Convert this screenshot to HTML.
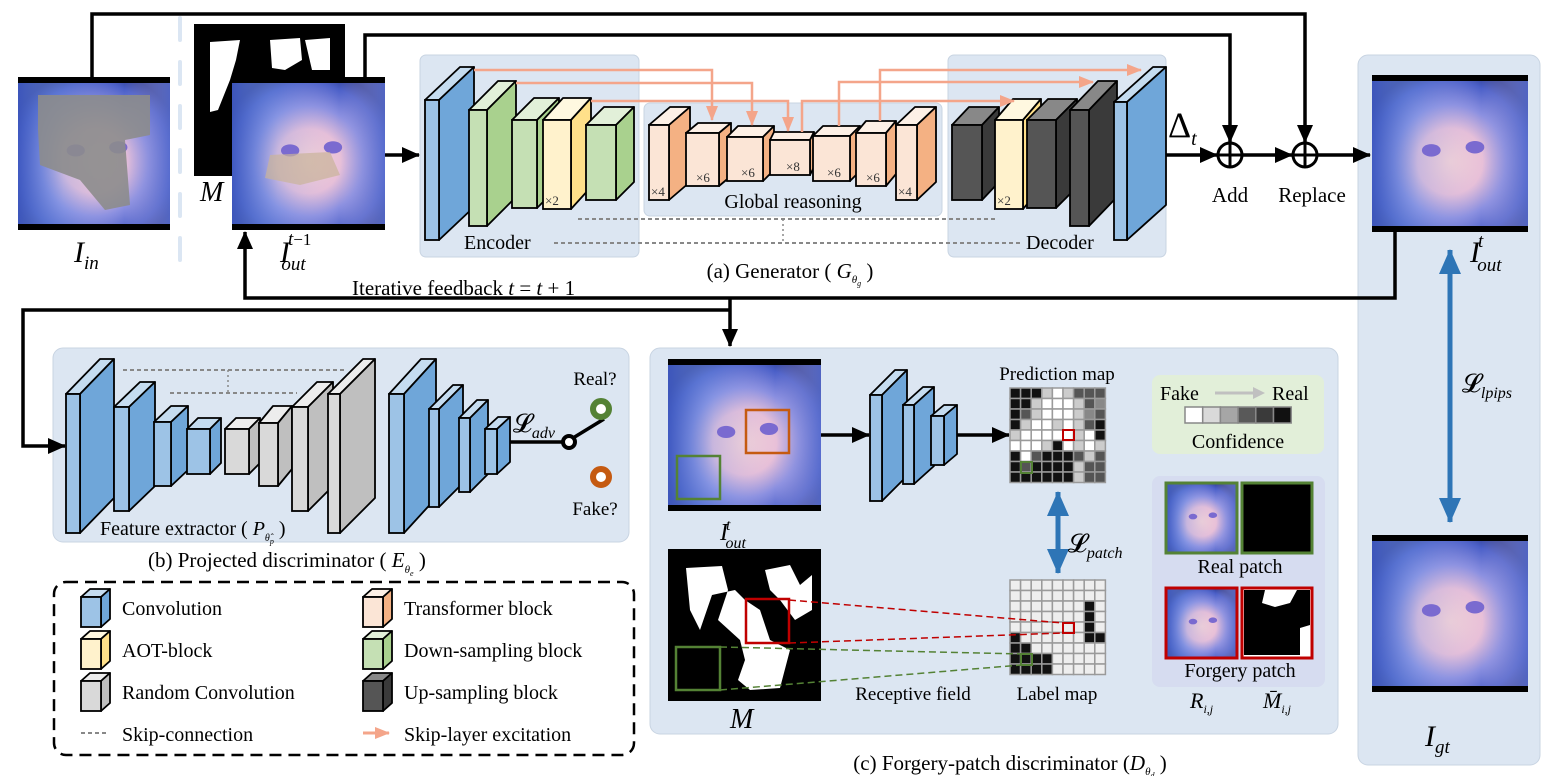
<!DOCTYPE html>
<html><head><meta charset="utf-8"><style>
html,body{margin:0;padding:0;background:#fff;}
svg{display:block;font-family:"Liberation Serif",serif;}
</style></head><body>
<svg id="s" width="1554" height="776" viewBox="0 0 1554 776" xmlns="http://www.w3.org/2000/svg">
<defs>
<marker id="ab" markerWidth="20" markerHeight="20" refX="17" refY="8" orient="auto" markerUnits="userSpaceOnUse" viewBox="0 0 20 20"><path d="M0,0 L18,8 L0,16 Z" fill="#000"/></marker>
<marker id="ap" markerWidth="16" markerHeight="14" refX="14" refY="6" orient="auto" markerUnits="userSpaceOnUse" viewBox="0 0 16 14"><path d="M0,0 L15,6 L0,12 Z" fill="#f4a58a"/></marker>
<marker id="abl" markerWidth="26" markerHeight="24" refX="24" refY="11" orient="auto" markerUnits="userSpaceOnUse" viewBox="0 0 26 24"><path d="M0,0 L25,11 L0,22 Z" fill="#2e75b6"/></marker>
<marker id="abl2" markerWidth="26" markerHeight="24" refX="1" refY="11" orient="auto" markerUnits="userSpaceOnUse" viewBox="0 0 26 24"><path d="M25,0 L0,11 L25,22 Z" fill="#2e75b6"/></marker>
<radialGradient id="anime" cx="0.5" cy="0.55" r="0.6">
<stop offset="0" stop-color="#f4d2d6"/><stop offset="0.35" stop-color="#e8c0d8"/><stop offset="0.6" stop-color="#8a8fe0"/><stop offset="0.85" stop-color="#4a5fc8"/><stop offset="1" stop-color="#2c3a8a"/></radialGradient>
<linearGradient id="hair" x1="0" y1="0" x2="1" y2="0"><stop offset="0" stop-color="#3e58c0" stop-opacity="0.9"/><stop offset="0.3" stop-color="#7fa0ea" stop-opacity="0.3"/><stop offset="0.7" stop-color="#c8b8e8" stop-opacity="0"/><stop offset="1" stop-color="#5a6fd0" stop-opacity="0.8"/></linearGradient>
</defs>
<g id="g"></g>
</svg>
<script>
var o='';
function R(x,y,w,h,f,extra){o+='<rect x="'+x+'" y="'+y+'" width="'+w+'" height="'+h+'" fill="'+f+'" '+(extra||'')+'/>';}
function L(pts,st,w,extra){o+='<polyline points="'+pts+'" fill="none" stroke="'+st+'" stroke-width="'+w+'" '+(extra||'')+'/>';}
function T(x,y,s,sz,extra){o+='<text x="'+x+'" y="'+y+'" font-size="'+sz+'" '+(extra||'')+'>'+s+'</text>';}
function box(x1,x2,y1,y2,sx,ty,front,side,top,lab){
 var dx=sx-x2,dy=y1-ty;
 o+='<polygon points="'+x1+','+y1+' '+(x1+dx)+','+ty+' '+sx+','+ty+' '+x2+','+y1+'" fill="'+top+'" stroke="#000" stroke-width="1.8" stroke-linejoin="round"/>';
 o+='<polygon points="'+x2+','+y1+' '+sx+','+ty+' '+sx+','+(y2-dy)+' '+x2+','+y2+'" fill="'+side+'" stroke="#000" stroke-width="1.8" stroke-linejoin="round"/>';
 o+='<rect x="'+x1+'" y="'+y1+'" width="'+(x2-x1)+'" height="'+(y2-y1)+'" fill="'+front+'" stroke="#000" stroke-width="1.8"/>';
 if(lab) T(x1+2,y2-4,lab,13,'fill="#333"');
}
var BL=['#9dc3e6','#6fa6d9','#c5dcf0'],GR=['#c5e0b4','#a9d18e','#e2f0d9'],YE=['#fff2cc','#ffe08a','#fff8e0'],TR=['#fbe5d6','#f4b183','#fdf0e6'],DK=['#555','#3a3a3a','#888'],GY=['#d9d9d9','#bfbfbf','#ededed'];
function B(a,b,c,d,e,f,C,lab){box(a,b,c,d,e,f,C[0],C[1],C[2],lab);}
function img(x,y,w,h,bars){
 R(x,y,w,h,'url(#anime)');R(x,y,w,h,'url(#hair)');
 o+='<ellipse cx="'+(x+w*0.38)+'" cy="'+(y+h*0.48)+'" rx="'+(w*0.06)+'" ry="'+(h*0.04)+'" fill="#7a6ad0"/>';
 o+='<ellipse cx="'+(x+w*0.66)+'" cy="'+(y+h*0.46)+'" rx="'+(w*0.06)+'" ry="'+(h*0.04)+'" fill="#7a6ad0"/>';
 if(bars){R(x,y,w,6,'#000');R(x,y+h-6,w,6,'#000');}
}
R(420,55,219,202,'#dce6f2','rx="6" stroke="#c8d4e2"');
R(948,55,218,202,'#dce6f2','rx="6" stroke="#c8d4e2"');
R(644,103,298,113,'#dce6f2','rx="6" stroke="#c8d4e2"');
R(1358,55,182,710,'#dce6f2','rx="10" stroke="#c8d4e2"');
R(53,348,576,194,'#dce6f2','rx="10" stroke="#c8d4e2"');
R(650,348,688,386,'#dce6f2','rx="10" stroke="#c8d4e2"');
img(18,77,152,153,true);
o+='<path d="M38,95 L150,95 L150,135 L125,140 L130,205 L105,210 L80,180 L40,165 L38,130 Z" fill="#8c8c8c" opacity="0.9"/>';
o+='<line x1="180" y1="18" x2="180" y2="268" stroke="#dbe6f3" stroke-width="4" stroke-dasharray="22,22" stroke-linecap="round"/>';
R(194,24,151,152,'#000');
o+='<path d="M210,42 L240,40 L236,60 L230,80 L222,100 L218,110 L210,112 Z M270,40 L300,38 L302,60 L285,70 L272,68 Z M305,40 L330,38 L330,70 L312,70 Z" fill="#fff"/>';
img(232,77,153,153,true);
o+='<path d="M270,155 L330,152 L340,175 L300,185 L265,178 Z" fill="#c9b49a" opacity="0.7"/>';
T(74,262,'<tspan font-style="italic">I</tspan><tspan font-size="19" dy="7" font-style="italic">in</tspan>',30);
T(200,201,'M',28,'font-style="italic"');
T(280,262,'<tspan font-style="italic">I</tspan><tspan font-size="19" dx="-2" dy="-17" font-style="italic">t</tspan><tspan font-size="17">−1</tspan><tspan font-size="19" dx="-30" dy="25" font-style="italic">out</tspan>',30);
B(425,439,100,240,474,67,BL);
B(469,487,110,226,516,81,GR);
B(512,537,120,208,559,98,GR);
B(543,571,120,209,591,98,YE,'×2');
B(586,616,125,200,634,107,GR);
B(649,669,125,200,690,107,TR,'×4');
B(686,719,133,186,731,123,TR,'<tspan dx="8">×6</tspan>');
B(727,763,137,181,774,126,TR,'<tspan dx="12">×6</tspan>');
B(770,810,140,175,814,132,TR,'<tspan dx="14">×8</tspan>');
B(813,850,136,181,860,126,TR,'<tspan dx="12">×6</tspan>');
B(856,886,133,186,896,121,TR,'<tspan dx="8">×6</tspan>');
B(896,917,125,200,936,107,TR,'×4');
B(952,982,125,200,999,107,DK);
B(995,1023,120,209,1041,99,YE,'×2');
B(1027,1056,120,208,1077,99,DK);
B(1070,1089,110,226,1117,81,DK);
B(1114,1127,102,240,1166,67,BL);
var P='#f4a58a';
L('474,70 712,70 712,120',P,2.5,'marker-end="url(#ap)"');
L('516,83 752,83 752,125',P,2.5,'marker-end="url(#ap)"');
L('591,101 788,101 788,131',P,2.5,'marker-end="url(#ap)"');
L('802,132 802,101 1014,101',P,2.5,'marker-end="url(#ap)"');
L('839,126 839,82 1093,82',P,2.5,'marker-end="url(#ap)"');
L('880,121 880,70 1141,70',P,2.5,'marker-end="url(#ap)"');
L('578,219 996,219','#888',2,'stroke-dasharray="4,3"');
L('554,243 1023,243','#888',2,'stroke-dasharray="4,3"');
L('783,219 783,243','#888',1.5,'stroke-dasharray="2,3"');
T(793,208,'Global reasoning',20,'text-anchor="middle"');
T(464,249,'Encoder',20);T(1026,249,'Decoder',20);
T(790,278,'(a) Generator ( <tspan font-style="italic">G</tspan><tspan font-size="11" dy="5" font-style="italic">θ</tspan><tspan font-size="8" dy="3" font-style="italic">g</tspan><tspan dy="-8"> )</tspan>',21,'text-anchor="middle"');
var K='#000';
L('92,77 92,14 1305,14 1305,142',K,3.5,'marker-end="url(#ab)"');
L('365,77 365,35 1230,35 1230,142',K,3.5,'marker-end="url(#ab)"');
L('385,155 419,155',K,3.5,'marker-end="url(#ab)"');
L('1166,155 1217,155',K,3.5,'marker-end="url(#ab)"');
L('1243,155 1292,155',K,3.5,'marker-end="url(#ab)"');
L('1318,155 1370,155',K,3.5,'marker-end="url(#ab)"');
[1230,1305].forEach(function(cx){o+='<circle cx="'+cx+'" cy="155" r="12" fill="#fff" stroke="#000" stroke-width="3"/><line x1="'+(cx-12)+'" y1="155" x2="'+(cx+12)+'" y2="155" stroke="#000" stroke-width="3"/><line x1="'+cx+'" y1="143" x2="'+cx+'" y2="167" stroke="#000" stroke-width="3"/>';});
T(1168,137,'Δ<tspan font-size="20" dy="8" font-style="italic">t</tspan>',36);
T(1230,202,'Add',21,'text-anchor="middle"');T(1312,202,'Replace',21,'text-anchor="middle"');
L('1395,232 1395,298 245,298 245,232',K,3.5,'marker-end="url(#ab)"');
T(352,295,'Iterative feedback <tspan font-style="italic">t</tspan> = <tspan font-style="italic">t</tspan> + 1',21);
L('730,298 730,346',K,3.5,'marker-end="url(#ab)"');
L('730,310 23,310 23,446 65,446',K,3.5,'marker-end="url(#ab)"');
img(1372,75,156,157,true);img(1372,535,156,157,true);
T(1470,262,'<tspan font-style="italic">I</tspan><tspan font-size="19" dx="-2" dy="-15" font-style="italic">t</tspan><tspan font-size="19" dx="-6" dy="24" font-style="italic">out</tspan>',30);
T(1425,746,'<tspan font-style="italic">I</tspan><tspan font-size="19" dy="7" font-style="italic">gt</tspan>',30);
o+='<line x1="1450" y1="250" x2="1450" y2="522" stroke="#2e75b6" stroke-width="5" marker-start="url(#abl2)" marker-end="url(#abl)"/>';
T(1462,392,'𝓛<tspan font-size="16" dy="6" font-style="italic">lpips</tspan>',26);
B(66,80,394,533,114,359,BL);B(114,129,407,511,155,382,BL);B(154,171,422,486,188,406,BL);B(187,210,429,474,221,418,BL);
B(225,249,429,474,260,418,GY);B(259,278,423,486,292,406,GY);B(292,308,407,511,333,382,GY);B(328,340,394,533,375,359,GY);
B(389,404,394,533,436,359,BL);B(429,439,409,507,463,385,BL);B(459,470,418,492,488,400,BL);B(485,497,429,474,510,417,BL);
L('123,370 346,370','#888',2,'stroke-dasharray="4,3"');L('170,393 297,393','#888',2,'stroke-dasharray="4,3"');L('228,370 228,393','#888',1.5,'stroke-dasharray="2,3"');
L('510,442 563,442',K,3.5);
o+='<circle cx="569" cy="442" r="6" fill="#fff" stroke="#000" stroke-width="4"/><line x1="573" y1="438" x2="604" y2="419" stroke="#000" stroke-width="3.5"/>';
o+='<circle cx="601" cy="409" r="8" fill="#fff" stroke="#548235" stroke-width="6"/><circle cx="601" cy="477" r="8" fill="#fff" stroke="#c55a11" stroke-width="6"/>';
T(595,385,'Real?',19,'text-anchor="middle"');T(595,515,'Fake?',19,'text-anchor="middle"');
T(513,432,'𝓛<tspan font-size="16" dy="6" font-style="italic">adv</tspan>',26);
T(100,535,'Feature extractor ( <tspan font-style="italic">P</tspan><tspan font-size="10" dy="6" font-style="italic">θ̂</tspan><tspan font-size="8" dy="3" font-style="italic">p</tspan><tspan dy="-9"> )</tspan>',20);
T(148,567,'(b) Projected discriminator ( <tspan font-style="italic">E</tspan><tspan font-size="11" dy="6" font-style="italic">θ</tspan><tspan font-size="8" dy="3" font-style="italic">e</tspan><tspan dy="-9"> )</tspan>',21);
R(54,582,580,173,'none','rx="12" stroke="#000" stroke-width="2.5" stroke-dasharray="12,7"');
function lg(x,y,C){box(x,x+20,y-10,y+20,x+29,y-18,C[0],C[1],C[2]);}
lg(81,607,BL);lg(81,649,YE);lg(81,691,GY);lg(363,607,TR);lg(363,649,GR);lg(363,691,DK);
L('81,733 109,733','#888',2,'stroke-dasharray="4,3"');L('363,733 389,733',P,3,'marker-end="url(#ap)"');
T(122,615,'Convolution',20);T(122,657,'AOT-block',20);T(122,699,'Random Convolution',20);T(122,741,'Skip-connection',20);
T(404,615,'Transformer block',20);T(404,657,'Down-sampling block',20);T(404,699,'Up-sampling block',20);T(404,741,'Skip-layer excitation',20);
img(668,359,153,152,true);
R(746,410,43,43,'none','stroke="#c55a11" stroke-width="2.5"');R(677,456,43,43,'none','stroke="#548235" stroke-width="2.5"');
T(720,540,'<tspan font-style="italic">I</tspan><tspan font-size="16" dx="-2" dy="-10" font-style="italic">t</tspan><tspan font-size="16" dx="-5" dy="18" font-style="italic">out</tspan>',24);
R(668,549,153,152,'#000');
o+='<path d="M686,568 L722,566 L728,590 L718,620 L740,640 L745,660 L738,680 L750,690 L780,688 L790,650 L770,640 L760,610 L745,600 L735,590 L712,595 L700,630 L690,610 Z M765,570 L790,565 L800,585 L812,575 L812,610 L795,620 L780,600 L770,590 Z" fill="#fff"/>';
R(746,599,43,44,'none','stroke="#c00000" stroke-width="2.5"');R(676,647,44,43,'none','stroke="#548235" stroke-width="2.5"');
T(730,728,'M',28,'font-style="italic"');
L('821,435 869,435',K,3.5,'marker-end="url(#ab)"');
B(870,882,395,501,907,370,BL);B(903,914,405,484,934,387,BL);B(931,944,416,465,957,405,BL);
L('957,435 1009,435',K,3.5,'marker-end="url(#ab)"');
var cm={k:'#111',g:'#888',w:'#fff',l:'#ccc',m:'#555',x:'#eee'};
function grid(x0,y0,s){for(var r=0;r<9;r++)for(var c=0;c<9;c++){var ch=s[r*9+c];R(x0+c*10.6,y0+r*10.5,10.6,10.5,cm[ch],'stroke="#9a9a9a" stroke-width="1.5"');}}
grid(1010,388,'kkklwlmmm'+'kklwwwlmg'+'kmlwwwlgm'+'klwwlwlmk'+'lwwwwwlwk'+'wwwlkwlwl'+'kwmkkkmlm'+'kmkkkklmm'+'kkkkkklmm');
R(1063,430,11,10,'none','stroke="#c00000" stroke-width="2"');
R(1021,462,11,11,'none','stroke="#548235" stroke-width="2"');
var lm='';for(var r=0;r<9;r++){for(var c=0;c<9;c++){var k=0;if(c==7&&r>=2&&r<=5)k=1;if(r==5&&c==8)k=1;if(r>=5&&c==0)k=1;if(r>=6&&c<=1)k=1;if(r>=7&&c<=3)k=1;lm+=k?'k':'x';}}
grid(1010,580,lm);
R(1063,623,11,10,'none','stroke="#c00000" stroke-width="2"');R(1021,654,11,11,'none','stroke="#548235" stroke-width="2"');
T(1057,380,'Prediction map',19,'text-anchor="middle"');T(1057,700,'Label map',19,'text-anchor="middle"');
T(913,700,'Receptive field',19,'text-anchor="middle"');
o+='<line x1="789" y1="600" x2="1063" y2="623" stroke="#c00000" stroke-width="1.5" stroke-dasharray="7,4"/><line x1="789" y1="643" x2="1063" y2="633" stroke="#c00000" stroke-width="1.5" stroke-dasharray="7,4"/>';
o+='<line x1="720" y1="647" x2="1021" y2="654" stroke="#548235" stroke-width="1.5" stroke-dasharray="7,4"/><line x1="720" y1="690" x2="1021" y2="665" stroke="#548235" stroke-width="1.5" stroke-dasharray="7,4"/>';
o+='<line x1="1058" y1="492" x2="1058" y2="573" stroke="#2e75b6" stroke-width="5" marker-start="url(#abl2)" marker-end="url(#abl)"/>';
T(1068,552,'𝓛<tspan font-size="16" dy="6" font-style="italic">patch</tspan>',26);
R(1152,375,172,79,'#e2efd9','rx="8"');
T(1160,400,'Fake',20);T(1272,400,'Real',20);
o+='<line x1="1215" y1="393" x2="1255" y2="393" stroke="#c0c0c0" stroke-width="3"/><path d="M1253,387 L1265,393 L1253,399 Z" fill="#c0c0c0"/>';
['#fff','#d9d9d9','#a6a6a6','#595959','#3a3a3a','#111'].forEach(function(c,i){R(1185+i*17.7,407,17.7,16,c,'stroke="#888" stroke-width="1.5"');});
T(1238,448,'Confidence',20,'text-anchor="middle"');
R(1152,476,173,211,'#d6dcf0','rx="8"');
img(1166,483,71,70,false);R(1166,483,71,70,'none','stroke="#548235" stroke-width="3"');
R(1242,483,70,70,'#000','stroke="#548235" stroke-width="3"');
T(1240,573,'Real patch',20,'text-anchor="middle"');
img(1166,588,71,70,false);R(1166,588,71,70,'none','stroke="#c00000" stroke-width="3"');
R(1242,588,70,70,'#fff','stroke="#c00000" stroke-width="3"');
o+='<path d="M1244,590 L1265,590 L1262,603 L1275,607 L1290,603 L1297,590 L1310,590 L1310,625 L1300,628 L1300,655 L1244,655 L1244,640 Z" fill="#000"/>';
T(1240,677,'Forgery patch',20,'text-anchor="middle"');
T(1190,708,'<tspan font-style="italic">R</tspan><tspan font-size="12" dy="5" font-style="italic">i,j</tspan>',22);
T(1263,708,'<tspan font-style="italic">M̄</tspan><tspan font-size="12" dy="5" font-style="italic">i,j</tspan>',22);
T(1010,770,'(c) Forgery-patch discriminator (<tspan font-style="italic">D</tspan><tspan font-size="11" dy="5" font-style="italic">θ</tspan><tspan font-size="8" dy="3" font-style="italic">d</tspan><tspan dy="-8"> )</tspan>',21,'text-anchor="middle"');
document.getElementById('g').innerHTML=o;
</script>
</body></html>
